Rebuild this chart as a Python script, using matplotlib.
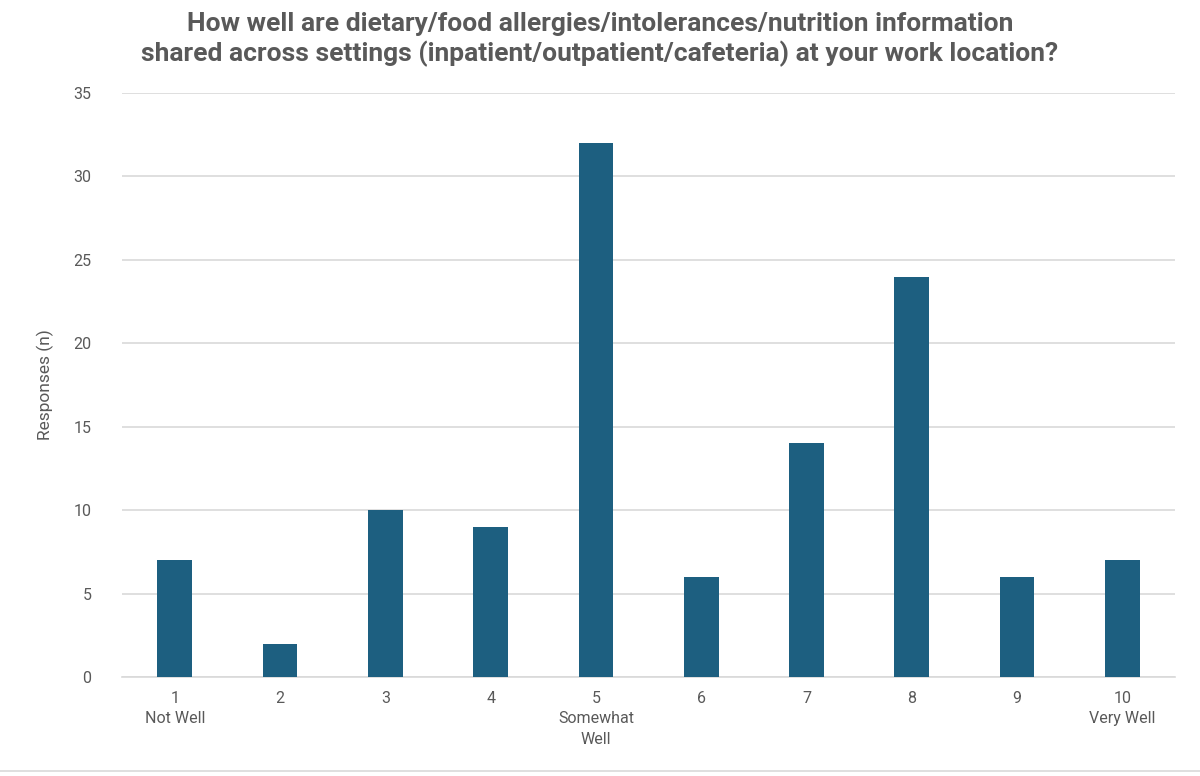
import matplotlib
matplotlib.use("Agg")
import matplotlib.pyplot as plt
from matplotlib.lines import Line2D

categories = ["1\nNot Well", "2", "3", "4", "5\nSomewhat\nWell", "6", "7", "8", "9", "10\nVery Well"]
values = [7, 2, 10, 9, 32, 6, 14, 24, 6, 7]
yticks = [0, 5, 10, 15, 20, 25, 30, 35]

plt.rcParams['font.family'] = ['Roboto', 'DejaVu Sans']
text_color = '#595959'
bar_color = '#1D5F80'
grid_color = '#D9D9D9'

fig = plt.figure(figsize=(12, 7.76), dpi=100)
ax = fig.add_axes([0.1017, 0.1276, 0.8775, 0.7526])

x = list(range(len(categories)))
ax.bar(x, values, width=0.33, color=bar_color, zorder=3)
ax.set_xlim(-0.5, len(categories) - 0.5)
ax.set_ylim(0, 35)
ax.set_yticks(yticks)
ax.set_yticklabels([str(t) for t in yticks], fontsize=11.5, color=text_color)
ax.set_xticks(x)
ax.set_xticklabels(categories, fontsize=11.5, color=text_color, linespacing=1.45)
ax.tick_params(axis='both', length=0)
ax.tick_params(axis='x', pad=10)
ax.tick_params(axis='y', pad=22)
ax.yaxis.grid(True, color=grid_color, linewidth=1.2, zorder=0)
for s in ['top', 'right', 'left']:
    ax.spines[s].set_visible(False)
ax.spines['bottom'].set_color(grid_color)
ax.spines['bottom'].set_linewidth(1.2)

ax.set_ylabel("Responses (n)", fontsize=12.5, color=text_color, labelpad=14)

fig.text(0.5, 0.985, "How well are dietary/food allergies/intolerances/nutrition information\nshared across settings (inpatient/outpatient/cafeteria) at your work location?",
         ha='center', va='top', fontsize=19, fontweight='bold', color=text_color, linespacing=1.25)

fig.add_artist(Line2D([0, 1], [0.007, 0.007], color='#D9D9D9', linewidth=1.2, transform=fig.transFigure))

fig.savefig("out.png", dpi=100)
